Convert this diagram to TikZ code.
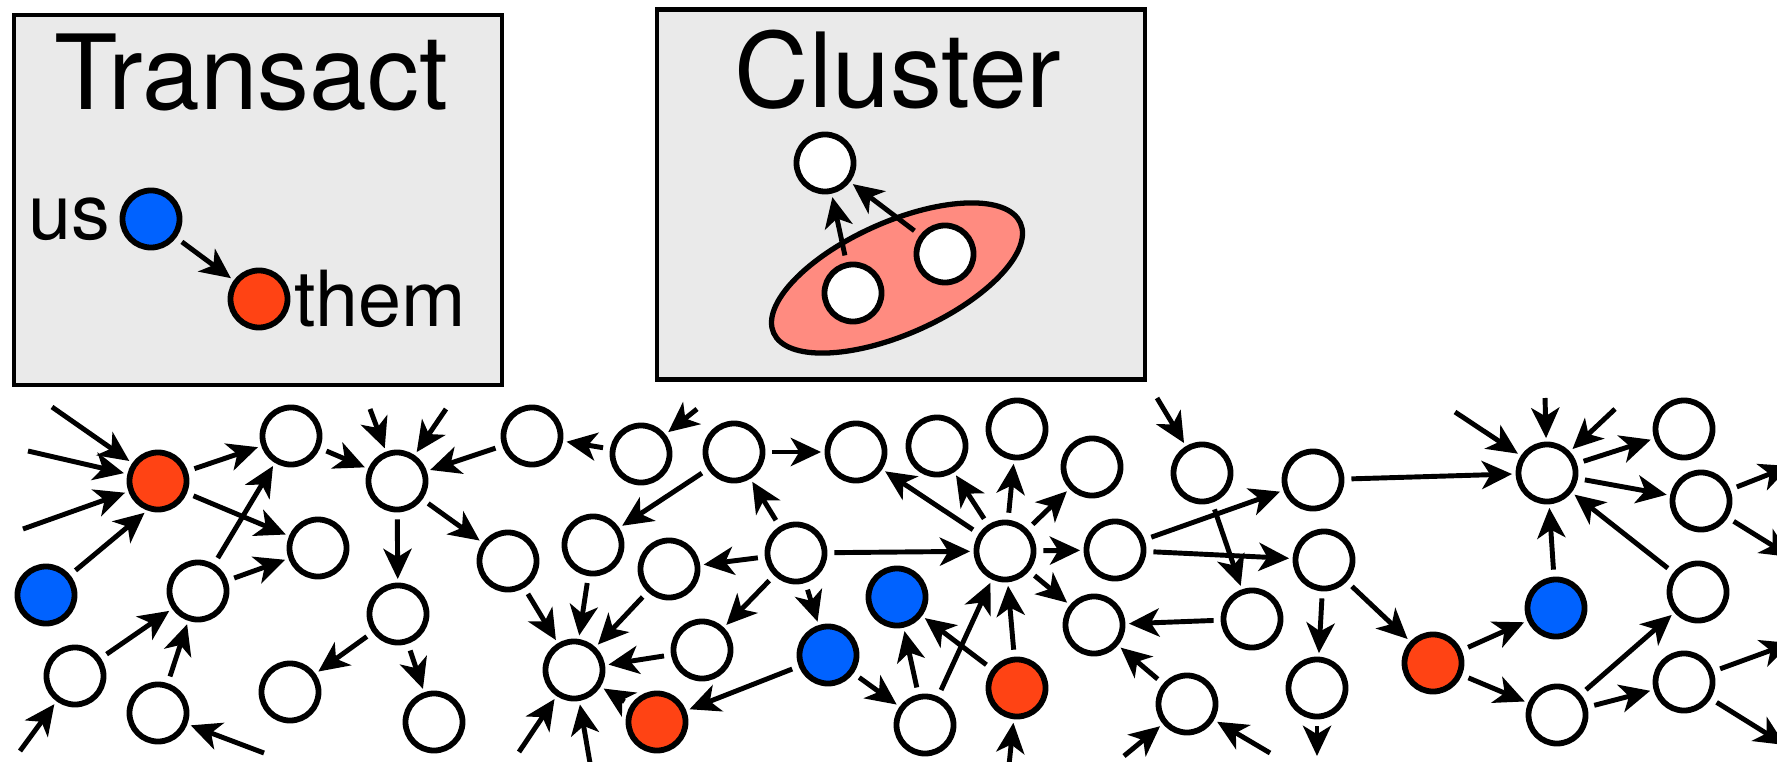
\documentclass[tikz,border=0pt]{standalone}
\usepackage{fontspec}
\setmainfont{TeX Gyre Heros}
\usepackage{tikz}
\usetikzlibrary{arrows.meta,positioning,shapes.geometric}
\definecolor{panelgray}{HTML}{EAEAEA}
\definecolor{usblue}{HTML}{0062FF}
\definecolor{themred}{HTML}{FF4314}
\definecolor{blobred}{HTML}{FF8B80}

\begin{document}
\begin{tikzpicture}[x=0.01cm,y=-0.01cm]
  \tikzset{peer/.style={circle,draw,line width=1.65pt,fill=white,minimum size=5.7mm,inner sep=0pt},
    ours/.style={peer,fill=usblue},
    theirs/.style={peer,fill=themred},
    link/.style={line width=1.4pt,-{Stealth[length=8.6pt,width=8pt,inset=2.4pt]},shorten <=2pt,shorten >=1pt},
    panel/.style={draw,line width=1.3pt,fill=panelgray,minimum width=48.75mm,minimum height=37mm},
    blob/.style={ellipse,draw,line width=1.5pt,fill=blobred,minimum width=27mm,minimum height=11.2mm,inner sep=0pt},
    title/.style={font=\fontsize{29.5}{34}\selectfont,anchor=base,inner sep=0pt},
    tag/.style={font=\fontsize{22}{26}\selectfont,inner sep=0pt}}
  \useasboundingbox (0,0) rectangle (1777,761);

  % legend: Transact
  \node[panel] (transact) at (258,200) {};
  \node[title] (transacttitle) at (251,110) {Transact};
  \node[ours] (usdot) at (151,219) {};
  \node[theirs] (themdot) at (259,299) {};
  \node[tag,left=0.09cm of usdot] (uslabel) {us};
  \node[tag,right=0.03cm of themdot] (themlabel) {them};
  \draw[link] (usdot) -- (themdot);

  % legend: Cluster
  \node[panel] (cluster) at (901,194.5) {};
  \node[title] (clustertitle) at (898,108) {Cluster};
  \node[blob,rotate=24] (group) at (897,278) {};
  \node[peer] (c1) at (825,163) {};
  \node[peer] (c2) at (853,293) {};
  \node[peer] (c3) at (945,254) {};
  \draw[link] (c2) -- (c1);
  \draw[link] (c3) -- (c1);

  % the network
  \foreach \name/\px/\py in {p1/291/436, p2/318/548, p3/198/591, p4/75/676, p5/158/713,
      p6/397/481, p7/398/614, p8/290/692, p9/434/722, p10/532/436, p11/508/561, p12/574/670,
      p13/641/454, p14/734/452, p15/856/452, p16/937/446, p17/1017/429, p18/1092/467,
      p19/593/545, p20/669/569, p21/796/553, p22/702/650, p23/1005/551, p24/1115/550,
      p25/1094/625, p26/925/725, p27/1202/473, p28/1313/480, p29/1324/560, p30/1252/619,
      p31/1187/704, p32/1317/688, p33/1547/473, p34/1684/429, p35/1701/501, p36/1698/592,
      p37/1557/715, p38/1684/682}
    \node[peer] (\name) at (\px,\py) {};
  \foreach \name/\px/\py in {u1/46/595, u2/828/655, u3/897/597, u4/1556/608}
    \node[ours] (\name) at (\px,\py) {};
  \foreach \name/\px/\py in {t1/158/481, t2/657/722, t3/1017/688, t4/1433/663}
    \node[theirs] (\name) at (\px,\py) {};

  % loose ends at the border
  \foreach \name/\px/\py in {in1/52/407, in2/28/451, in3/23/529, in4/20/751, in5/264/753,
      in6/370/409, in7/446/409, in8/519/752, in9/590/763, in10/697/409, in11/1009/765,
      in12/1157/398, in13/1124/756, in14/1270/753, in15/1455/412, in16/1545/398,
      in17/1615/409, out1/1317/756, out2/1790/466, out3/1791/557, out4/1791/643, out5/1785/745}
    \coordinate (\name) at (\px,\py);

  \foreach \from/\to in {u1/t1.250, t1/p1, t1/p2, p3/p1, p3/p2, p4/p3, p5/p3, p1/p6, p10/p6,
      p6/p11, p6/p7, p7/p8, p7/p9, p11/p12, p19/p12, p13/p10, p14/p19, p14/p15, p21/p14,
      p21/p20, p21/p22, p21/u2, p21/p23, p20/p12, p22/p12, t2/p12, u2/t2, u2/p26, p26/u3,
      p26/p23, t3/u3, t3/p23, p23/p15, p23/p16, p23/p17, p23/p18, p23/p24, p23/p25,
      p24/p28, p24/p29, p27/p30, p30/p25, p31/p25, p29/p32, p29/t4, p28/p33, t4/u4, t4/p37,
      u4/p33, p37/p36, p37/p38, p36/p33, p33/p34, p33/p35}
    \draw[link] (\from) -- (\to);
  \foreach \from/\to in {in1/t1, in2/t1, in3/t1, in4/p4, in5/p5, in6/p6, in7/p6, in8/p12,
      in9/p12, in10/p13, in11/t3, in12/p27, in13/p31, in14/p31, in15/p33, in16/p33, in17/p33}
    \draw[link,shorten <=0pt] (\from) -- (\to);
  \foreach \from/\to in {p32/out1, p35/out2, p35/out3, p38/out4, p38/out5}
    \draw[link,shorten >=0pt] (\from) -- (\to);
\end{tikzpicture}
\end{document}
